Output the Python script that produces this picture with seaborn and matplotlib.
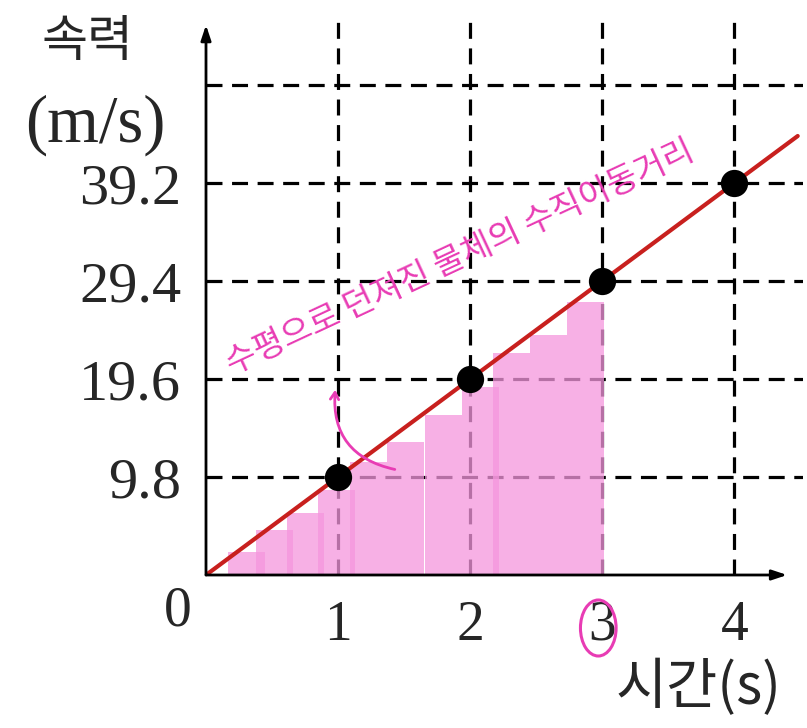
import matplotlib
matplotlib.use("Agg")
import matplotlib.pyplot as plt
from matplotlib.patches import Ellipse
import seaborn as sns
import pandas as pd

# --- Dados ---
t_line = [0, 4.48]
v_line = [0, 43.9]
t_points = [1, 2, 3, 4]
v_points = [9.8, 19.6, 29.4, 39.2]
x_ticks = [1, 2, 3, 4]
x_labels = ["1", "2", "3", "4"]
y_ticks = [9.8, 19.6, 29.4, 39.2, 49.0]
y_labels = ["9.8", "19.6", "29.4", "39.2", ""]
# faixas do marca-texto rosa (centro, altura)
strip_t = [0.31, 0.52, 0.75, 0.99, 1.23, 1.51, 1.80, 2.08, 2.31, 2.59, 2.87]
strip_v = [2.3, 4.5, 6.2, 8.5, 11.3, 13.3, 16.0, 18.8, 22.2, 24.0, 27.3]
note_text = "수평으로 던져진 물체의 수직이동거리"

sns.set_style("white")
plt.rcParams["font.family"] = ["Liberation Serif", "Noto Sans CJK KR"]

fig = plt.figure(figsize=(8.07, 7.28), dpi=100)
ax = fig.add_axes([206 / 807, 153 / 728, 597 / 807, 560 / 728])
ax.set_xlim(0, 4.52)
ax.set_ylim(0, 56)

# grade tracejada
for x in x_ticks:
    ax.plot([x, x], [0, 56], color="black", lw=2.3, dashes=(5, 3), zorder=1)
for y in y_ticks:
    ax.plot([0, 4.52], [y, y], color="black", lw=2.3, dashes=(5, 3), zorder=1)

# marca-texto rosa
strips = pd.DataFrame({"t": strip_t, "v": strip_v})
ax.bar(strips["t"], strips["v"], width=0.28, color="#f596dd", alpha=0.75,
       edgecolor="none", zorder=2)

# linha e pontos
sns.lineplot(x=t_line, y=v_line, ax=ax, color="#c8201e", lw=3, zorder=3)
sns.scatterplot(x=t_points, y=v_points, ax=ax, color="black", s=330,
                edgecolor="black", zorder=4)

# eixos com setas
for s in ax.spines.values():
    s.set_visible(False)
ax.annotate("", xy=(0, 55), xytext=(0, 0),
            arrowprops=dict(arrowstyle="-|>,head_width=0.3,head_length=0.9",
                            color="black", lw=2, shrinkA=0, shrinkB=0))
ax.annotate("", xy=(4.4, 0), xytext=(0, 0),
            arrowprops=dict(arrowstyle="-|>,head_width=0.3,head_length=0.9",
                            color="black", lw=2, shrinkA=0, shrinkB=0))

ax.set_xticks(x_ticks)
ax.set_xticklabels(x_labels, fontsize=40)
ax.set_yticks(y_ticks)
ax.set_yticklabels(y_labels, fontsize=42)
ax.tick_params(length=0, pad=18)
ax.grid(False)

fig.text(178 / 807, 1 - 612 / 728, "0", fontsize=40, ha="center", va="center")
fig.text(88 / 807, 1 - 42 / 728, "속력", fontsize=36, ha="center", va="center",
         family=["Noto Sans CJK KR"])
fig.text(95 / 807, 1 - 125 / 728, "(m/s)", fontsize=48, ha="center", va="center")
fig.text(698 / 807, 1 - 688 / 728, "시간(s)", fontsize=40, ha="center", va="center",
         family=["Noto Sans CJK KR"])

# anotações à mão
ax.text(1.92, 31.8, note_text, color="#e83cb4", fontsize=24, rotation=25,
        ha="center", va="center", family=["Noto Sans CJK KR"],
        fontweight="medium", zorder=5)
ax.annotate("", xy=(0.98, 18.8), xytext=(1.45, 10.5),
            arrowprops=dict(arrowstyle="->,head_width=0.3,head_length=0.5",
                            color="#e83cb4", lw=2,
                            connectionstyle="arc3,rad=-0.45"), zorder=5)
ax.add_patch(Ellipse((2.97, -5.3), 0.27, 5.6, fill=False, edgecolor="#e83cb4",
                     lw=2.2, clip_on=False))

fig.savefig("out.png", dpi=100)
